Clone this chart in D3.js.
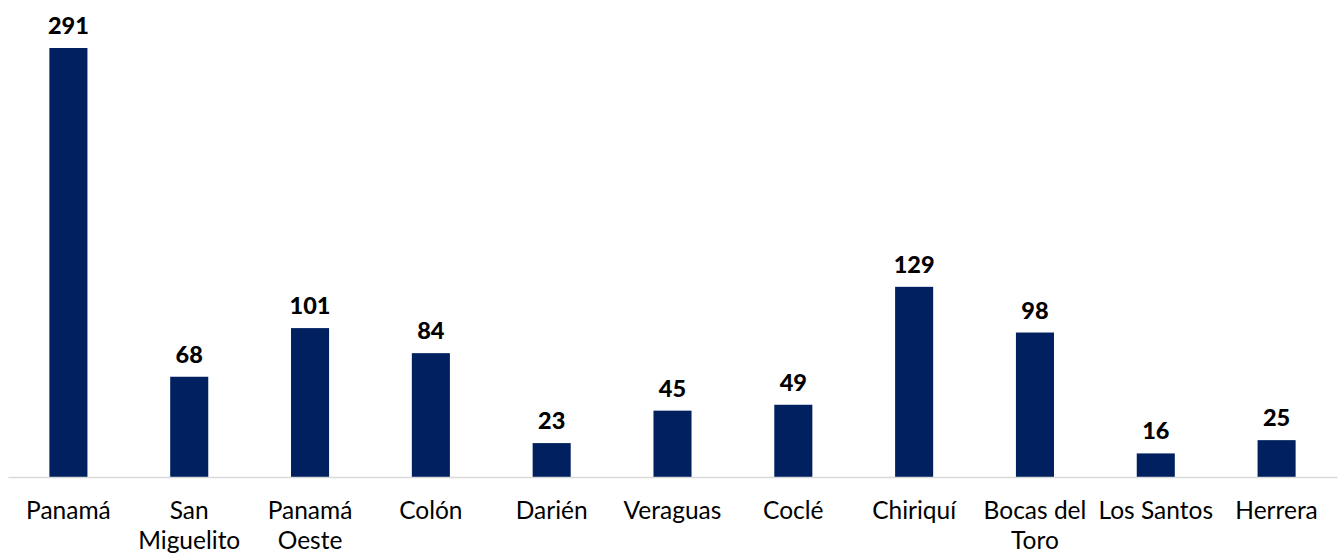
<!DOCTYPE html>
<html>
<head>
<meta charset="utf-8">
<script src="https://cdn.jsdelivr.net/npm/d3@7"></script>
<style>
  html, body { margin: 0; padding: 0; background: #ffffff; }
  svg { display: block; }
</style>
</head>
<body>
<svg id="chart" width="1339" height="556"></svg>
<script>
const categories = ["Panamá", "San\nMiguelito", "Panamá\nOeste", "Colón", "Darién", "Veraguas", "Coclé", "Chiriquí", "Bocas del\nToro", "Los Santos", "Herrera"];
const values = [291, 68, 101, 84, 23, 45, 49, 129, 98, 16, 25];

const W = 1339, H = 556;
const svg = d3.select("#chart");
const fontFamily = "Lato, 'Open Sans', sans-serif";

const x = d3.scaleBand().domain(categories).range([8, 1337]).paddingInner(0.685).paddingOuter(0.3425);
const y = d3.scaleLinear().domain([0, 291]).range([477, 48]);

// bars
svg.append("g").selectAll("rect")
  .data(values)
  .join("rect")
  .attr("x", (d, i) => x(categories[i]))
  .attr("y", d => y(d))
  .attr("width", x.bandwidth())
  .attr("height", d => y(0) - y(d))
  .attr("fill", "#002060");

// axis line
const xAxis = d3.axisBottom(x).tickSize(0).tickFormat("");
const ax = svg.append("g").attr("transform", `translate(0,${y(0)})`).call(xAxis);
ax.select(".domain").attr("stroke", "#d9d9d9").attr("stroke-width", 1.5);

// value labels
svg.append("g").selectAll("text")
  .data(values)
  .join("text")
  .attr("x", (d, i) => x(categories[i]) + x.bandwidth() / 2)
  .attr("y", d => y(d) - 14)
  .attr("text-anchor", "middle")
  .attr("font-family", fontFamily)
  .attr("font-weight", "900")
  .attr("font-size", 23.5)
  .attr("fill", "#000000")
  .text(d => d);

// category labels
const lab = svg.append("g").selectAll("text")
  .data(categories)
  .join("text")
  .attr("x", d => x(d) + x.bandwidth() / 2)
  .attr("y", 519)
  .attr("text-anchor", "middle")
  .attr("font-family", fontFamily)
  .attr("font-size", 24.5)
  .attr("fill", "#000000");
lab.each(function(d) {
  const t = d3.select(this);
  d.split("\n").forEach((line, i) => {
    t.append("tspan")
      .attr("x", x(d) + x.bandwidth() / 2)
      .attr("dy", i === 0 ? 0 : 30)
      .text(line);
  });
});
</script>
</body>
</html>
